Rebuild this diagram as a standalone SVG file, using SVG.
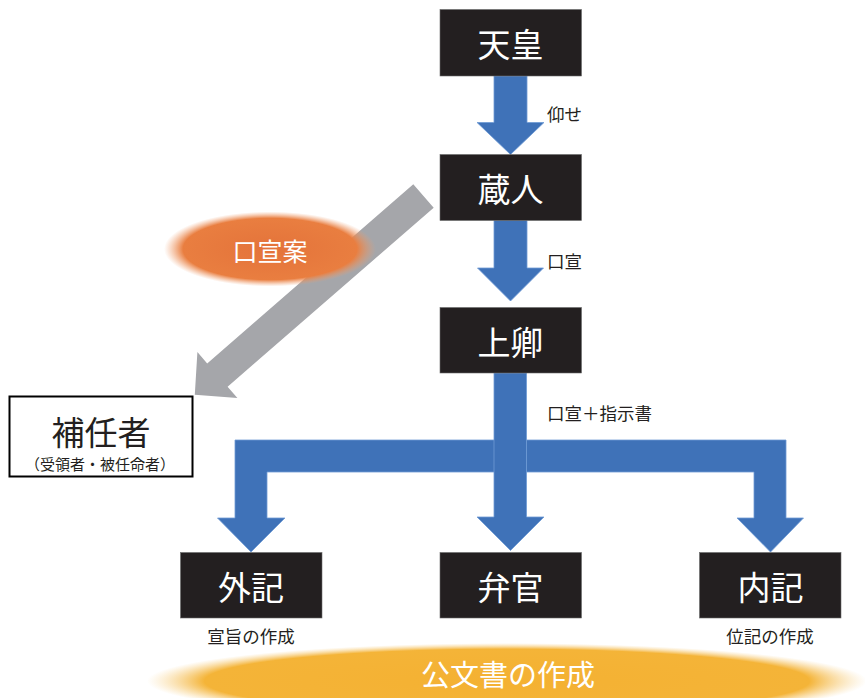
<svg xmlns="http://www.w3.org/2000/svg" width="865" height="698" viewBox="0 0 865 698">
<defs>
<radialGradient id="gOrange" cx="0.5" cy="0.5" r="0.5">
<stop offset="0" stop-color="#e4733a"/>
<stop offset="0.82" stop-color="#e97e40"/>
<stop offset="1" stop-color="#f0a070" stop-opacity="0"/>
</radialGradient>
<radialGradient id="gGold" cx="0.5" cy="0.5" r="0.5">
<stop offset="0" stop-color="#f4b132"/>
<stop offset="0.84" stop-color="#f4b438"/>
<stop offset="1" stop-color="#f8d28a" stop-opacity="0"/>
</radialGradient>
<style>
.box{fill:#231f20;stroke:#6b6b6b;stroke-width:0.6}
.blue{fill:#3f72b8;stroke:#6e9ad4;stroke-width:0.8}
.gray{fill:#a5a6aa}
.t{font-family:"Noto Sans CJK JP","Noto Sans CJK SC",sans-serif;text-anchor:middle;dominant-baseline:central}
.big{font-size:33px;fill:#ffffff}
.lbl{font-size:17.5px;fill:#231f20;text-anchor:start}
.sub{font-size:17.5px;fill:#231f20}
</style>
</defs>
<rect width="865" height="698" fill="#ffffff"/>

<g id="bottom-ellipse">
<ellipse cx="507" cy="681" rx="360" ry="38" fill="url(#gGold)"/>
<text class="t" x="508" y="673" font-size="29" fill="#ffffff">公文書の作成</text>
</g>

<g id="connectors">
<polygon class="blue" points="494,76 527,76 527,122.5 544,122.5 510.5,154.5 477,122.5 494,122.5"/>
<polygon class="blue" points="494,220.5 527,220.5 527,268 543.5,268 510.5,301 477.5,268 494,268"/>
<polygon class="blue" points="494.5,440 235,440 235,518 217.5,518 251,552 285,518 267,518 267,472 494.5,472"/>
<polygon class="blue" points="526.5,440 786,440 786,518 803.5,518 770.5,552 737,518 754,518 754,472 526.5,472"/>
<polygon class="blue" points="494,373 526.5,373 526.5,517 544,517 510.5,550.5 477,517 494,517"/>
<polygon class="gray" points="413.3,184.3 433.7,207.7 227.6,386.8 237.4,398.1 194.8,394.8 197.4,352.1 207.2,363.4"/>
<text class="t lbl" x="547" y="113">仰せ</text>
<text class="t lbl" x="547" y="260">口宣</text>
<text class="t lbl" x="547" y="412">口宣＋指示書</text>
</g>

<g id="kosen-an">
<ellipse cx="270" cy="249" rx="106" ry="37.5" fill="url(#gOrange)"/>
<text class="t" x="270" y="250" font-size="25" fill="#ffffff">口宣案</text>
</g>

<g id="tenno">
<rect class="box" x="440" y="9.5" width="141.5" height="66.5"/>
<text class="t big" x="510.5" y="43">天皇</text>
</g>
<g id="kurodo">
<rect class="box" x="440" y="154.5" width="141.5" height="66"/>
<text class="t big" x="510.5" y="188">蔵人</text>
</g>
<g id="shokei">
<rect class="box" x="440" y="307.5" width="141.5" height="65.5"/>
<text class="t big" x="510.5" y="341">上卿</text>
</g>
<g id="geki">
<rect class="box" x="180.5" y="552.5" width="141.5" height="65.5"/>
<text class="t big" x="251" y="586">外記</text>
<text class="t sub" x="251" y="635">宣旨の作成</text>
</g>
<g id="benkan">
<rect class="box" x="440" y="552.5" width="141.5" height="65.5"/>
<text class="t big" x="510.5" y="586">弁官</text>
</g>
<g id="naiki">
<rect class="box" x="699.5" y="552.5" width="141.5" height="65.5"/>
<text class="t big" x="770.5" y="586">内記</text>
<text class="t sub" x="770" y="635">位記の作成</text>
</g>
<g id="buninsha">
<rect x="9.5" y="396.5" width="183" height="80" fill="#ffffff" stroke="#000000" stroke-width="2"/>
<text class="t" x="101" y="431" font-size="33" fill="#231f20">補任者</text>
<text class="t" x="100" y="463" font-size="15" fill="#231f20">（受領者・被任命者）</text>
</g>
</svg>
